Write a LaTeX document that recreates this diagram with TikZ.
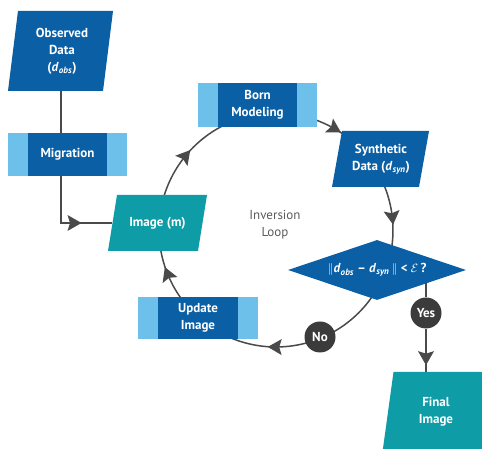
\documentclass[tikz,border=0pt]{standalone}
\usepackage{fontspec}
\setmainfont{PT Sans}
\usetikzlibrary{shapes.geometric,decorations.markings,backgrounds}
\definecolor{darkb}{HTML}{0B5FA5}
\definecolor{lightb}{HTML}{6CC0EA}
\definecolor{tealc}{HTML}{0E9CA6}
\definecolor{circg}{HTML}{3B3B3B}
\definecolor{lineg}{HTML}{4A4A4A}
\definecolor{textg}{HTML}{5A5A5A}
% parallelogram: x-left, y-bottom, width, height, slant, colour
\newcommand\parafill[6]{\fill[#6] (#1,#2) -- ({#1+#3-#5},#2) -- ({#1+#3},{#2+#4}) -- ({#1+#5},{#2+#4}) -- cycle;}
\tikzset{
  boxtext/.style={text=white,font=\fontsize{13}{17}\selectfont\bfseries,align=center},
  procbox/.style={boxtext,fill=lightb,minimum width=119pt,minimum height=43pt,inner sep=0pt,
    path picture={\fill[darkb] ([xshift=20pt]path picture bounding box.south west) rectangle ([xshift=-20pt]path picture bounding box.north east);}},
  paratext/.style={boxtext,inner sep=0pt},
  decbox/.style={boxtext,diamond,fill=darkb,shape aspect=3,inner sep=0pt,minimum width=178pt,minimum height=60pt},
  answer/.style={circle,fill=circg,minimum size=31pt,inner sep=0pt,text=white,font=\fontsize{13}{15}\selectfont\bfseries},
  conn/.style={draw=lineg,line width=1.5pt},
  midarr/.style={postaction={decorate,decoration={markings,mark=at position #1 with {\fill[lineg] (7pt,0) -- (-7pt,8pt) -- (-4.5pt,0) -- (-7pt,-8pt) -- cycle;}}}}
}
\begin{document}
\begin{tikzpicture}[x=1pt,y=1pt]
\useasboundingbox (0,0) rectangle (482,449);
\clip (0,0) rectangle (482,449);
\coordinate (loopc) at (276,219);
% parallelogram shapes
\parafill{8}{358}{105}{80}{10}{darkb}
\parafill{108}{198}{99}{56}{9}{tealc}
\parafill{332}{262}{97}{56}{10}{darkb}
\parafill{382.5}{-3}{130}{80}{11}{tealc}
% nodes
\node[paratext,minimum width=105pt,minimum height=80pt] (obs) at (62,398) {Observed\\Data\\(\textit{d}\textsubscript{\textit{obs}})};
\node[procbox] (mig) at (67.5,294.5) {Migration};
\node[paratext,minimum width=90pt,minimum height=56pt] (img) at (157.5,226) {Image (m)};
\node[procbox,minimum height=44pt] (born) at (257.5,344) {Born\\Modeling};
\node[paratext,minimum width=97pt,minimum height=56pt] (syn) at (381,290) {Synthetic\\Data (\textit{d}\textsubscript{\textit{syn}})};
\node[procbox,minimum width=120pt,minimum height=42pt] (upd) at (198,131) {Update\\Image};
\node[paratext,minimum width=90pt,minimum height=80pt] (fin) at (436,37) {Final\\Image};
\node[font=\fontsize{13}{17}\selectfont,text=textg,align=center] (loop) at (275,224) {Inversion\\Loop};
\node[decbox] (dia) at (377,179) {$\Vert$\textit{d}\textsubscript{\textit{obs}} -- \textit{d}\textsubscript{\textit{syn}}\,$\Vert$ < $\mathcal{E}$\,?};
\node[answer] (yes) at (426,136) {Yes};
\node[answer] (no) at (320,112) {No};
\coordinate (obsout) at (61,398);
\coordinate (migout) at (61,294.5);
\coordinate (diaout) at (426,179);
\coordinate (finin) at (426,77);
\begin{scope}[on background layer]
% loop arcs
\draw[conn,midarr=0.46] ([shift={(176.6:117)}]loopc) arc[start angle=176.6,end angle=98,radius=117];
\draw[conn,midarr=0.60] ([shift={(98:117)}]loopc) arc[start angle=98,end angle=34.2,radius=117];
\draw[conn,midarr=0.52] ([shift={(34.2:117)}]loopc) arc[start angle=34.2,end angle=-20,radius=117];
\draw[conn] ([shift={(-20:117)}]loopc) arc[start angle=-20,end angle=-67.6,radius=117];
\draw[conn,midarr=0.36] ([shift={(-67.6:117)}]loopc) arc[start angle=-67.6,end angle=-131.6,radius=117];
\draw[conn,midarr=0.512] ([shift={(-131.6:117)}]loopc) arc[start angle=-131.6,end angle=-183.4,radius=117];
% straight connectors
\draw[conn] (obsout) -- (obsout |- mig.north);
\draw[conn,midarr=82pt] (migout) |- (img.west);
\draw[conn] (diaout) -- (yes);
\draw[conn,midarr=0.68] (yes) -- (finin);
\end{scope}
\end{tikzpicture}
\end{document}
